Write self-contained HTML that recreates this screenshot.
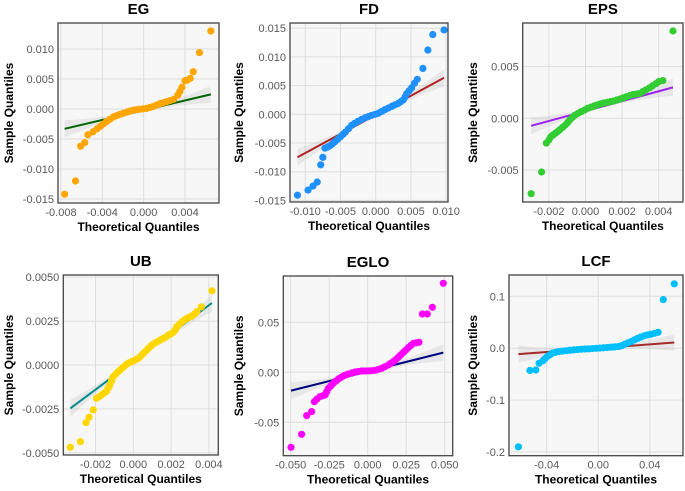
<!DOCTYPE html>
<html><head><meta charset="utf-8">
<style>
html,body{margin:0;padding:0;background:#fff;}
svg{display:block;font-family:"Liberation Sans",Arial,sans-serif;}
</style></head>
<body>
<svg id="chart" width="685" height="491" viewBox="0 0 685 491" xmlns="http://www.w3.org/2000/svg"></svg>
<script>
// Data in units of 0.001
const egX=[-7.65,-6.6,-6.1,-5.7,-5.4,-4.9,-4.5,-4.2,-3.9,-3.6,-3.25,-2.9,-2.6,-2.3,-1.95,-1.6,-1.3,-1.0,-0.7,-0.4,-0.05,0.3,0.6,0.9,1.25,1.6,1.9,2.2,2.55,2.9,3.3,3.5,3.7,4.0,4.2,4.5,4.8,5.4,6.5];
const egY=[-14.2,-12,-6.2,-5.6,-4.3,-3.8,-3.3,-2.9,-2.5,-2.1,-1.7,-1.3,-1.1,-0.9,-0.7,-0.5,-0.35,-0.2,-0.12,-0.05,0.02,0.1,0.25,0.4,0.65,0.9,1.05,1.2,1.4,1.6,2.3,2.9,3.6,4.7,4.8,5.1,6.2,9.4,13.0];
const fdX=[-11.1,-9.6,-8.9,-8.3,-7.8,-7.5,-7.2,-6.85,-6.5,-6.15,-5.8,-5.4,-5.0,-4.65,-4.3,-3.85,-3.4,-2.95,-2.5,-2.0,-1.5,-1.05,-0.6,-0.1,0.4,0.85,1.3,1.8,2.3,2.75,3.2,3.55,3.9,4.15,4.4,4.75,5.1,5.5,5.9,6.7,7.4,8.1,9.7];
const fdY=[-14.1,-13.2,-12.5,-11.8,-8.8,-7.5,-5.9,-5.7,-5.5,-5.15,-4.8,-4.35,-3.9,-3.5,-3.1,-2.5,-1.9,-1.55,-1.2,-0.9,-0.6,-0.4,-0.2,0.0,0.2,0.5,0.8,1.1,1.4,1.65,1.9,2.2,2.5,3.0,3.6,4.1,4.6,5.4,6.1,8.0,11.2,13.9,14.7];
const epsX=[-2.97,-2.4,-2.14,-2.0,-1.9,-1.78,-1.65,-1.52,-1.4,-1.25,-1.1,-0.97,-0.85,-0.72,-0.58,-0.4,-0.23,-0.05,0.12,0.3,0.48,0.65,0.83,1.0,1.2,1.37,1.54,1.72,1.9,2.07,2.25,2.42,2.6,2.78,2.96,3.13,3.3,3.5,3.67,3.85,4.0,4.23,4.78];
const epsY=[-7.3,-5.2,-2.4,-2.1,-1.8,-1.62,-1.45,-1.28,-1.1,-0.88,-0.65,-0.4,-0.15,0.08,0.3,0.48,0.65,0.8,0.97,1.08,1.2,1.3,1.4,1.48,1.55,1.62,1.68,1.78,1.87,1.98,2.1,2.2,2.3,2.35,2.4,2.58,2.75,2.95,3.15,3.35,3.55,3.65,8.45];
const ubX=[-3.33,-2.8,-2.5,-2.34,-2.12,-1.95,-1.8,-1.68,-1.55,-1.42,-1.33,-1.24,-1.15,-1.06,-0.93,-0.8,-0.67,-0.53,-0.4,-0.27,-0.13,0,0.13,0.27,0.4,0.53,0.67,0.8,0.93,1.06,1.2,1.33,1.46,1.6,1.73,1.86,2.0,2.12,2.22,2.3,2.44,2.57,2.7,2.83,2.96,3.1,3.23,3.36,3.6,4.16];
const ubY=[-4.68,-4.36,-3.28,-2.97,-2.56,-1.9,-1.8,-1.7,-1.6,-1.5,-1.32,-1.14,-0.9,-0.66,-0.52,-0.38,-0.25,-0.13,0,0.1,0.17,0.23,0.3,0.38,0.52,0.66,0.8,0.95,1.08,1.2,1.28,1.36,1.44,1.52,1.6,1.7,1.78,1.86,2.0,2.18,2.32,2.46,2.56,2.65,2.72,2.78,2.9,3.03,3.31,4.22];
const egloX=[-49.8,-42.9,-39.6,-36.4,-34.6,-33,-31,-29.3,-27.7,-26.6,-25.5,-23.9,-22.3,-20.6,-19,-17.4,-15.8,-14.2,-12.6,-10.4,-8.2,-6,-3.9,-1.8,0.4,2.6,4.8,7,9.1,11.2,13.4,15,16.7,18.3,19.9,21.5,23.2,24.8,26.4,28,29.7,31.5,33.3,35.5,38.7,42,49.1];
const egloY=[-75,-62,-43.3,-39.3,-29.3,-26.8,-24.3,-23.5,-22.7,-19.4,-16,-13.5,-11,-8.8,-6.7,-5.2,-3.7,-2.7,-1.7,-0.7,0.3,0.8,1.3,1.3,1.3,1.6,2,3,4,5.6,7.3,9,10.7,12.8,15,17.5,20,22.3,24.7,26.8,29,29.5,30,58.3,58.3,65,89];
const lcfX=[-61.9,-53,-48.4,-45.9,-42.8,-41.2,-39.5,-37.6,-35.7,-33.2,-30.6,-27.7,-24.8,-21.9,-19,-16.1,-13.2,-10.3,-7.4,-4.5,-1.6,1.3,4.2,7.1,10,12.9,15.8,18.2,20.4,22.9,25.5,28,30.6,33.1,35.7,38.2,40.8,43.6,46.4,50.4,58.9];
const lcfY=[-190,-43,-42,-29,-24,-20,-16,-12.8,-9.6,-8,-6.4,-5.6,-4.8,-4,-3.2,-2.6,-2,-1.5,-1.2,-0.7,-0.2,0.2,0.8,1.4,2,2.5,3.2,5,7.6,10,12.7,16,19,21.5,24,25.5,26.8,28.7,30.6,93.6,124];
// reference lines: [slope, intercept]
const egLine=[0.406,-0.2], fdLine=[0.666,-0.1], epsLine=[0.48,0.7], ubLine=[0.8,0.2], egloLine=[0.384,0.8], lcfLine=[0.185,0];
// tick values (0.001 units) and labels
const egXT=[-8,-4,0,4], egXL=["-0.008","-0.004","0.000","0.004"], egYT=[-15,-10,-5,0,5,10], egYL=["-0.015","-0.010","-0.005","0.000","0.005","0.010"];
const fdXT=[-10,-5,0,5,10], fdXL=["-0.010","-0.005","0.000","0.005","0.010"], fdYT=[-15,-10,-5,0,5,10,15], fdYL=["-0.015","-0.010","-0.005","0.000","0.005","0.010","0.015"];
const epsXT=[-2,0,2,4], epsXL=["-0.002","0.000","0.002","0.004"], epsYT=[-5,0,5], epsYL=["-0.005","0.000","0.005"];
const ubXT=[-2,0,2,4], ubXL=["-0.002","0.000","0.002","0.004"], ubYT=[-5,-2.5,0,2.5,5], ubYL=["-0.0050","-0.0025","0.0000","0.0025","0.0050"];
const egloXT=[-50,-25,0,25,50], egloXL=["-0.050","-0.025","0.000","0.025","0.050"], egloYT=[-50,0,50], egloYL=["-0.05","0.00","0.05"];
const lcfXT=[-40,0,40], lcfXL=["-0.04","0.00","0.04"], lcfYT=[-200,-100,0,100], lcfYL=["-0.2","-0.1","0.0","0.1"];

const NS="http://www.w3.org/2000/svg";
const svg=document.getElementById('chart');
function mk(tag,attrs,parent){const e=document.createElementNS(NS,tag);for(const k in attrs)e.setAttribute(k,attrs[k]);(parent||svg).appendChild(e);return e;}

const panels=[
 {key:'eg',title:'EG',box:[58,219,23,203],dom:[-8.29,7.29,-15.67,14.33],xs:egX,ys:egY,line:egLine,xt:egXT,xl:egXL,yt:egYT,yl:egYL,col:'#FFA500',lc:'#006400',ytx:9},
 {key:'fd',title:'FD',box:[290,448,23,202],dom:[-12.16,10.26,-15.28,15.91],xs:fdX,ys:fdY,line:fdLine,xt:fdXT,xl:fdXL,yt:fdYT,yl:fdYL,col:'#1E90FF',lc:'#B22222',ytx:239},
 {key:'eps',title:'EPS',box:[522.7,683,23,202],dom:[-3.432,5.328,-8.103,9.225],xs:epsX,ys:epsY,line:epsLine,xt:epsXT,xl:epsXL,yt:epsYT,yl:epsYL,col:'#32CD32',lc:'#A020F0',ytx:473},
 {key:'ub',title:'UB',box:[63.3,218.3,275,455],dom:[-3.704,4.497,-5.122,5.122],xs:ubX,ys:ubY,line:ubLine,xt:ubXT,xl:ubXL,yt:ubYT,yl:ubYL,col:'#FFD700',lc:'#008B8B',ytx:9},
 {key:'eglo',title:'EGLO',box:[283.3,452.7,276,455.7],dom:[-54.8,55.2,-83.4,96.3],xs:egloX,ys:egloY,line:egloLine,xt:egloXT,xl:egloXL,yt:egloYT,yl:egloYL,col:'#FF00FF',lc:'#000080',ytx:239},
 {key:'lcf',title:'LCF',box:[509,683,275,455.7],dom:[-69.2,65.7,-207.1,141],xs:lcfX,ys:lcfY,line:lcfLine,xt:lcfXT,xl:lcfXL,yt:lcfYT,yl:lcfYL,col:'#00BFFF',lc:'#A52A2A',ytx:473}
];

panels.forEach(p=>{
 const [l,r,t,b]=p.box,[x0,x1,y0,y1]=p.dom;
 const sx=v=>l+(v-x0)/(x1-x0)*(r-l);
 const sy=v=>b-(v-y0)/(y1-y0)*(b-t);
 const g=mk('g',{});
 
 
 const bg=mk('rect',{x:l,y:t,width:r-l,height:b-t,fill:'#f7f7f7'},g);
 
 
 p.xt.forEach((v,i)=>{
  const X=sx(v);
  const gl=mk('line',{x1:X,x2:X,y1:t,y2:b,stroke:'#dedede','stroke-width':1},g);
  
  
  const tx=mk('text',{x:X,y:b+13,'text-anchor':'middle','font-size':'11',fill:'#595959'},g);
  tx.textContent=p.xl[i];
  
  
 });
 p.yt.forEach((v,i)=>{
  const Y=sy(v);
  const gl=mk('line',{x1:l,x2:r,y1:Y,y2:Y,stroke:'#dedede','stroke-width':1},g);
  
  
  const ty=mk('text',{x:l-4,y:Y+4,'text-anchor':'end','font-size':'11',fill:'#595959'},g);
  ty.textContent=p.yl[i];
  
  
 });
 const xa=p.xs[0], xb=p.xs[p.xs.length-1];
 const xm=(xa+xb)/2, half=(xb-xa)/2;
 const f=x=>p.line[0]*x+p.line[1];
 const top=[],bot=[];
 for(let k=0;k<=20;k++){
  const x=xa+(xb-xa)*k/20, u=(x-xm)/half;
  const hw=1.5+7*u*u;
  top.push(sx(x)+','+(sy(f(x))-hw));
  bot.unshift(sx(x)+','+(sy(f(x))+hw));
 }
 const band=mk('polygon',{points:top.concat(bot).join(' '),fill:'#c8c8c8','fill-opacity':0.35},g);
 
 
 const ln=mk('line',{x1:sx(xa),y1:sy(f(xa)),x2:sx(xb),y2:sy(f(xb)),stroke:p.lc,'stroke-width':2},g);
 
 
 p.xs.forEach((v,i)=>{
  const c=mk('circle',{cx:sx(v),cy:sy(p.ys[i]),r:3.6,fill:p.col},g);
  
  
 });
 const bd=mk('rect',{x:l,y:t,width:r-l,height:b-t,fill:'none',stroke:'#444','stroke-width':1.3},g);
 
 
 const ti=mk('text',{x:(l+r)/2,y:t-9,'text-anchor':'middle','font-size':'15','font-weight':'bold',fill:'#000'},g);
 ti.textContent=p.title;
 
 
 const xt=mk('text',{x:(l+r)/2,y:b+28,'text-anchor':'middle','font-size':'12','font-weight':'bold',fill:'#000'},g);
 xt.textContent='Theoretical Quantiles';
 
 
 const cy=(t+b)/2;
 const yt=mk('text',{x:p.ytx,y:cy,'text-anchor':'middle','font-size':'12','font-weight':'bold',fill:'#000',transform:'rotate(-90 '+p.ytx+' '+cy+')','dominant-baseline':'central'},g);
 yt.textContent='Sample Quantiles';
 
 
});
</script>
</body></html>
